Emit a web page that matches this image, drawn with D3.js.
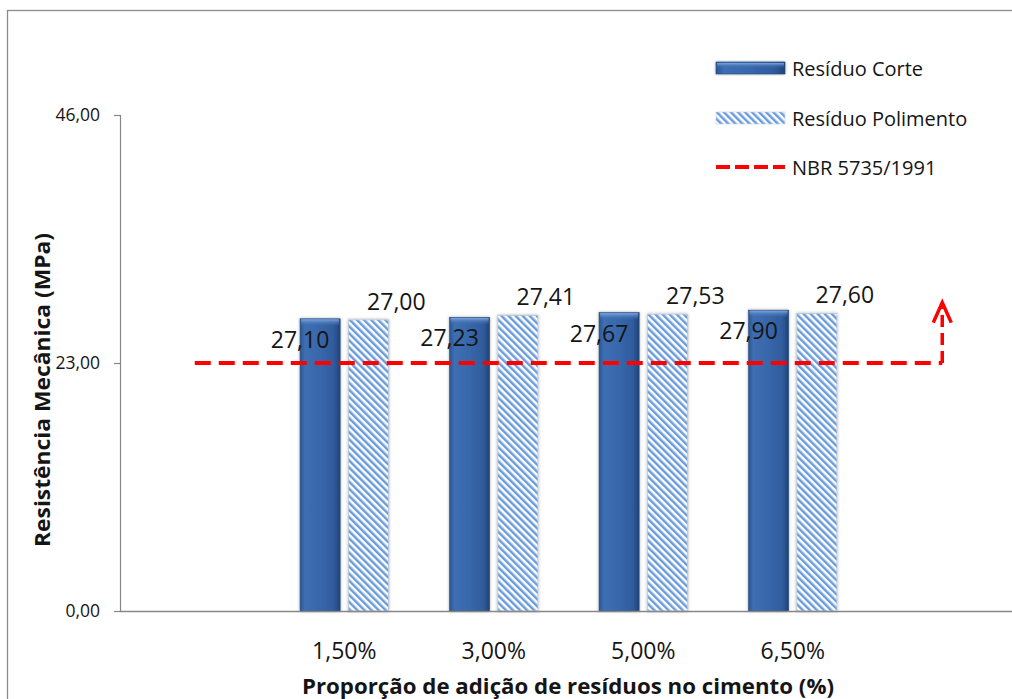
<!DOCTYPE html>
<html>
<head>
<meta charset="utf-8">
<script src="https://cdn.jsdelivr.net/npm/d3@7"></script>
<style>
  body { margin: 0; background: #ffffff; }
  svg { display: block; }
  text { font-family: "Open Sans", "Liberation Sans", sans-serif; fill: #151515; }
</style>
</head>
<body>
<svg id="chart" width="1012" height="699"></svg>
<script>
// Categories (first and last slots are empty, used only by the reference line)
const categories = ["", "1,50%", "3,00%", "5,00%", "6,50%", ""];
const residuoCorte = [null, 27.10, 27.23, 27.67, 27.90, null];
const residuoPolimento = [null, 27.00, 27.41, 27.53, 27.60, null];
const nbrLimit = [23, 23, 23, 23, 23, 23];
const yTicks = [0, 23, 46];
const seriesNames = ["Resíduo Corte", "Resíduo Polimento", "NBR 5735/1991"];
const arrowTop = 28.6;   // tip of the "above the limit" arrow, in MPa

const yTitle = "Resistência Mecânica (MPa)";
const xTitle = "Proporção de adição de resíduos no cimento (%)";

const fmt = v => d3.format(".2f")(v).replace(".", ",");

const svg = d3.select("#chart");
const plot = { left: 120, right: 1017, top: 115, bottom: 611 };

const defs = svg.append("defs");

// Bevelled blue fill for the solid bars
const gH = defs.append("linearGradient").attr("id", "corteFill")
  .attr("x1", "0").attr("x2", "1").attr("y1", "0").attr("y2", "0");
[["0%", "#2b5592"], ["12%", "#3d6fb3"], ["50%", "#3867ab"], ["85%", "#2f5b9b"], ["100%", "#1f4276"]]
  .forEach(([o, c]) => gH.append("stop").attr("offset", o).attr("stop-color", c));
const gTop = defs.append("linearGradient").attr("id", "corteTop")
  .attr("x1", "0").attr("x2", "0").attr("y1", "0").attr("y2", "1");
[["0%", "#7ea6df", 1], ["100%", "#3a6aae", 0]]
  .forEach(([o, c, a]) => gTop.append("stop").attr("offset", o).attr("stop-color", c).attr("stop-opacity", a));

// Diagonal hatch for the polishing-residue bars
function hatch(id, period) {
  const p = defs.append("pattern").attr("id", id)
    .attr("patternUnits", "userSpaceOnUse")
    .attr("width", period).attr("height", period)
    .attr("patternTransform", "rotate(-45)");
  p.append("rect").attr("width", period).attr("height", period).attr("fill", "#ffffff");
  p.append("rect").attr("width", period * 0.5).attr("height", period).attr("fill", "#6b9cdc");
}
hatch("polimentoHatch", 5);

const shadow = defs.append("filter").attr("id", "barShadow")
  .attr("x", "-30%").attr("y", "-10%").attr("width", "160%").attr("height", "120%");
shadow.append("feDropShadow").attr("dx", 0).attr("dy", 0).attr("stdDeviation", 1.6)
  .attr("flood-color", "#000").attr("flood-opacity", 0.35);

// Outer chart frame
svg.append("rect").attr("x", 7.5).attr("y", 10.5).attr("width", 1010).attr("height", 700)
  .attr("fill", "#ffffff").attr("stroke", "#8c8c8c").attr("stroke-width", 1.3);

const x = d3.scaleBand().domain(d3.range(categories.length))
  .range([plot.left, plot.right]).padding(0);
const y = d3.scaleLinear().domain([0, 46]).range([plot.bottom, plot.top]);

const bw = x.bandwidth();
const barW = bw * 0.268;
const gap = bw * 0.055;
const cx = i => x(i) + bw / 2;

// Y axis
const yAxis = svg.append("g").attr("transform", `translate(${plot.left},0)`)
  .call(d3.axisLeft(y).tickValues(yTicks).tickSize(6).tickPadding(14).tickFormat(fmt));
yAxis.select(".domain").attr("stroke", "#868686").attr("stroke-width", 1.2);
yAxis.selectAll(".tick line").attr("stroke", "#868686").attr("stroke-width", 1.2);
yAxis.selectAll(".tick text").attr("font-size", 17.5).attr("fill", "#151515")
  .style("font-family", "'Open Sans', sans-serif");

// Bars
const idx = d3.range(categories.length);
const corteIdx = idx.filter(i => residuoCorte[i] != null);
const poliIdx = idx.filter(i => residuoPolimento[i] != null);

const corteG = svg.append("g");
corteG.selectAll("rect.body").data(corteIdx).join("rect").attr("class", "body")
  .attr("x", i => cx(i) - gap / 2 - barW)
  .attr("y", i => y(residuoCorte[i]))
  .attr("width", barW)
  .attr("height", i => y(0) - y(residuoCorte[i]))
  .attr("fill", "url(#corteFill)")
  .attr("stroke", "#244a80").attr("stroke-width", 0.6)
  .attr("filter", "url(#barShadow)");
corteG.selectAll("rect.bevel").data(corteIdx).join("rect").attr("class", "bevel")
  .attr("x", i => cx(i) - gap / 2 - barW + 1)
  .attr("y", i => y(residuoCorte[i]) + 0.5)
  .attr("width", barW - 2)
  .attr("height", 7)
  .attr("fill", "url(#corteTop)");

svg.append("g").selectAll("rect").data(poliIdx).join("rect")
  .attr("x", i => cx(i) + gap / 2)
  .attr("y", i => y(residuoPolimento[i]))
  .attr("width", barW)
  .attr("height", i => y(0) - y(residuoPolimento[i]))
  .attr("fill", "url(#polimentoHatch)")
  .attr("stroke", "#b9c7d8").attr("stroke-width", 0.8)
  .attr("filter", "url(#barShadow)");

// X axis line
svg.append("line").attr("x1", plot.left).attr("x2", plot.right)
  .attr("y1", y(0) + 0.5).attr("y2", y(0) + 0.5)
  .attr("stroke", "#868686").attr("stroke-width", 1.3);

// Category labels
svg.append("g").selectAll("text").data(idx.filter(i => categories[i] !== "")).join("text")
  .attr("x", i => cx(i)).attr("y", 650)
  .attr("text-anchor", "middle").attr("dominant-baseline", "central")
  .attr("font-size", 23).text(i => categories[i]);

// NBR reference line across all category slots
const line = d3.line().x((d, i) => cx(i)).y(d => y(d));
svg.append("path").datum(nbrLimit).attr("d", line)
  .attr("fill", "none").attr("stroke", "#ff0000").attr("stroke-width", 4)
  .attr("stroke-dasharray", "16,8");

// Arrow pointing upward from the end of the reference line
const lastI = nbrLimit.length - 1;
const ax = cx(lastI);
svg.append("line").attr("x1", ax).attr("x2", ax)
  .attr("y1", y(nbrLimit[lastI])).attr("y2", y(arrowTop) + 3)
  .attr("stroke", "#ff0000").attr("stroke-width", 3.5).attr("stroke-dasharray", "12,6");
svg.append("path")
  .attr("d", `M${ax - 9},${y(arrowTop) + 20} L${ax},${y(arrowTop)} L${ax + 9},${y(arrowTop) + 20}`)
  .attr("fill", "none").attr("stroke", "#ff0000").attr("stroke-width", 3.5)
  .attr("stroke-linejoin", "miter");

// Value labels
svg.append("g").selectAll("text").data(corteIdx).join("text")
  .attr("x", i => cx(i) - gap / 2 - barW / 2 - 20)
  .attr("y", i => y(residuoCorte[i]) + 20)
  .attr("text-anchor", "middle").attr("dominant-baseline", "central")
  .attr("font-size", 23).text(i => fmt(residuoCorte[i]));
svg.append("g").selectAll("text").data(poliIdx).join("text")
  .attr("x", i => cx(i) + gap / 2 + barW / 2 + 28)
  .attr("y", i => y(residuoPolimento[i]) - 19)
  .attr("text-anchor", "middle").attr("dominant-baseline", "central")
  .attr("font-size", 23).text(i => fmt(residuoPolimento[i]));

// Axis titles
svg.append("text")
  .attr("transform", "translate(42,390) rotate(-90)")
  .attr("text-anchor", "middle").attr("dominant-baseline", "central")
  .attr("font-size", 21).attr("font-weight", "bold")
  .attr("textLength", 314).attr("lengthAdjust", "spacingAndGlyphs").text(yTitle);
svg.append("text")
  .attr("x", 568).attr("y", 686)
  .attr("text-anchor", "middle").attr("dominant-baseline", "central")
  .attr("font-size", 21).attr("font-weight", "bold")
  .attr("textLength", 532).attr("lengthAdjust", "spacingAndGlyphs").text(xTitle);

// Legend
const legend = svg.append("g").attr("transform", "translate(716,0)");
const rows = [68, 118, 167];
const sw = 69;
legend.append("rect").attr("x", 0).attr("y", rows[0] - 6).attr("width", sw).attr("height", 12)
  .attr("fill", "url(#corteFill)").attr("stroke", "#244a80").attr("stroke-width", 0.6)
  .attr("filter", "url(#barShadow)");
legend.append("rect").attr("x", 1).attr("y", rows[0] - 5).attr("width", sw - 2).attr("height", 5)
  .attr("fill", "url(#corteTop)");
legend.append("rect").attr("x", 0).attr("y", rows[1] - 6).attr("width", sw).attr("height", 12)
  .attr("fill", "url(#polimentoHatch)").attr("stroke", "#c4cfdc").attr("stroke-width", 0.6);
legend.append("line").attr("x1", 0).attr("x2", sw).attr("y1", rows[2]).attr("y2", rows[2])
  .attr("stroke", "#ff0000").attr("stroke-width", 4).attr("stroke-dasharray", "14,5");
legend.selectAll("text").data(seriesNames).join("text")
  .attr("x", sw + 7).attr("y", (d, i) => rows[i])
  .attr("dominant-baseline", "central").attr("font-size", 20).text(d => d);
</script>
</body>
</html>
